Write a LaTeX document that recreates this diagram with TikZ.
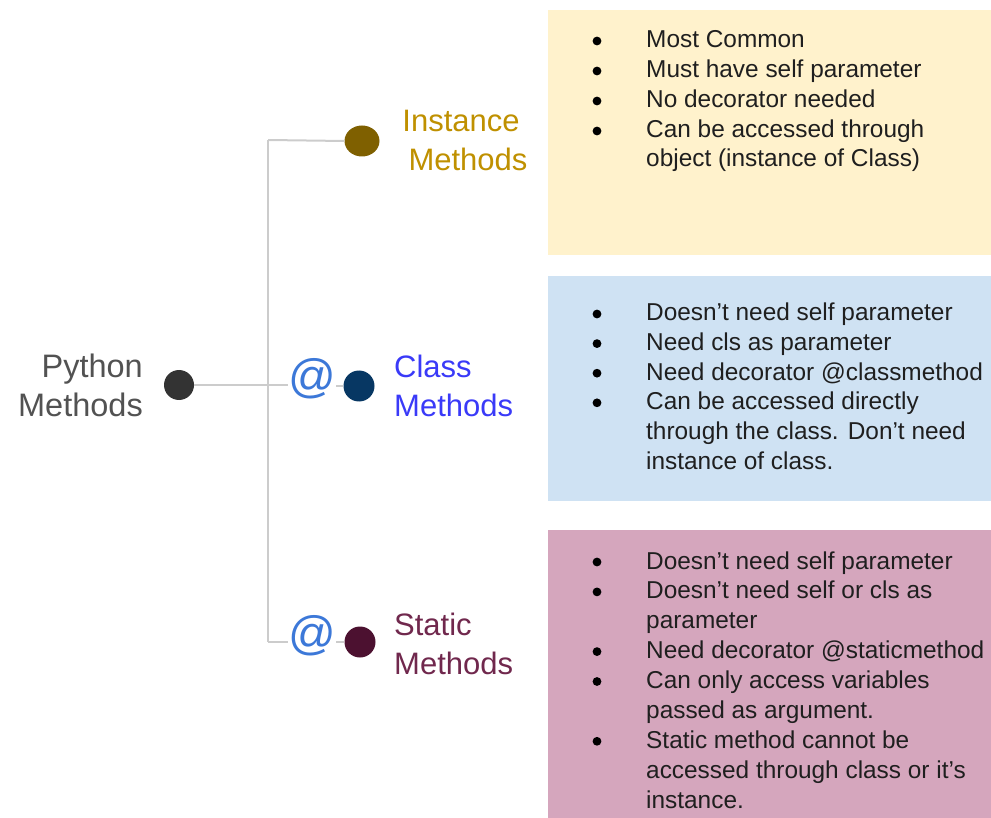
\documentclass[tikz,border=0pt]{standalone}
\usepackage{fontspec}
\setmainfont{Liberation Sans}
\usetikzlibrary{shapes.geometric}
\begin{document}
\begin{tikzpicture}[x=1pt,y=-1pt,
  link/.style={draw=black!20, line width=2pt},
  body/.style={anchor=base west, inner sep=0pt, text=black!88,
    font=\fontsize{24.4}{30}\selectfont},
  bul/.style={fill=black},
  head/.style={inner sep=0pt, font=\fontsize{31}{39}\selectfont},
  atsign/.style={inner sep=0pt, text=atblue, font=\fontsize{47}{47}\selectfont}]
\definecolor{instfill}{HTML}{FFF2CC}
\definecolor{clsfill}{HTML}{CFE2F3}
\definecolor{statfill}{HTML}{D5A6BD}
\definecolor{instdot}{HTML}{7F6000}
\definecolor{clsdot}{HTML}{073763}
\definecolor{statdot}{HTML}{4C1130}
\definecolor{insttext}{HTML}{BF9000}
\definecolor{clstext}{HTML}{3A3AF8}
\definecolor{stattext}{HTML}{70284D}
\definecolor{atblue}{HTML}{3C78D8}
\newcommand\bulletline[3]{%
  \fill[bul] (597,#2-7) circle (4.4);
  \node[body] (#1) at (646,#2) {#3};}
\newcommand\contline[3]{\node[body] (#1) at (646,#2) {#3};}

\useasboundingbox (0,0) rectangle (991,818);

% background panels
\fill[instfill] (548,10) rectangle (991,255);
\fill[clsfill] (548,276) rectangle (991,501);
\fill[statfill] (548,530) rectangle (991,818);

% root (anchor sits on the baseline of the last line)
\node[inner sep=0pt, anchor=base east, align=right, text=black!68,
  font=\fontsize{32.5}{39}\selectfont] (rootlabel) at (143,416) {Python\\Methods};
\node[circle, fill=black!80, minimum size=30pt, inner sep=0pt] (root) at (179,385) {};

% junctions of the tree
\coordinate (jtop) at (268,140);
\coordinate (jmid) at (268,385);
\coordinate (jbot) at (268,642);

% branch dots
\node[ellipse, fill=instdot, minimum width=35pt, minimum height=31pt, inner sep=0pt] (instdot) at (362,141) {};
\node[circle, fill=clsdot, minimum size=31pt, inner sep=0pt] (clsdot) at (359,386) {};
\node[circle, fill=statdot, minimum size=31pt, inner sep=0pt] (statdot) at (360,642) {};

% decorator marks
\node[atsign] (atcls) at (312,379) {@};
\node[atsign] (atstat) at (312,636) {@};

% connectors
\draw[link] (root.east) -- (jmid);
\draw[link] (jtop) -- (jbot);
\draw[link] (jtop) -- (instdot.west);
\draw[link] (jmid) -- (atcls.west |- jmid);
\draw[link] (atcls.east |- clsdot) -- (clsdot.west);
\draw[link] (jbot) -- (atstat.west |- jbot);
\draw[link] (atstat.east |- statdot) -- (statdot.west);

% branch labels
\node[head, anchor=base, align=center, text=insttext] (instlabel) at (461,171) {Instance\\\hspace*{14pt}Methods};
\node[head, anchor=base west, align=left, text=clstext] (clslabel) at (394,416) {Class\\Methods};
\node[head, anchor=base west, align=left, text=stattext] (statlabel) at (394,674) {Static\\Methods};

% instance methods notes
\bulletline{i1}{48}{Most Common}
\bulletline{i2}{78}{Must have self parameter}
\bulletline{i3}{108}{No decorator needed}
\bulletline{i4}{138}{Can be accessed through}
\contline{i5}{167}{object (instance of Class)}

% class methods notes
\bulletline{c1}{321}{Doesn’t need self parameter}
\bulletline{c2}{350.6}{Need cls as parameter}
\bulletline{c3}{380.2}{Need decorator @classmethod}
\bulletline{c4}{409.8}{Can be accessed directly}
\contline{c5}{439.4}{through the class. Don’t need}
\contline{c6}{469}{instance of class.}

% static methods notes
\bulletline{s1}{569}{Doesn’t need self parameter}
\bulletline{s2}{598.9}{Doesn’t need self or cls as}
\contline{s3}{628.8}{parameter}
\bulletline{s4}{658.6}{Need decorator @staticmethod}
\bulletline{s5}{688.5}{Can only access variables}
\contline{s6}{718.4}{passed as argument.}
\bulletline{s7}{748.3}{Static method cannot be}
\contline{s8}{778.1}{accessed through class or it’s}
\contline{s9}{808}{instance.}
\end{tikzpicture}
\end{document}
